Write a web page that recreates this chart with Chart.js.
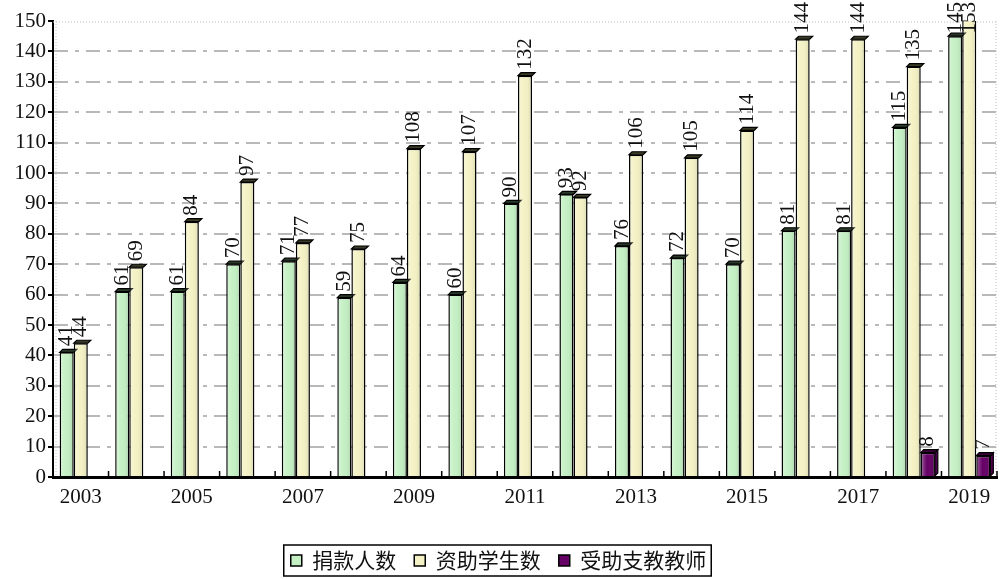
<!DOCTYPE html>
<html>
<head>
<meta charset="utf-8">
<script src="https://cdn.jsdelivr.net/npm/chart.js@4/dist/chart.umd.min.js"></script>
<style>
  html, body { margin: 0; padding: 0; background: #fff; }
  #wrap { width: 1001px; height: 579px; position: relative; }
</style>
</head>
<body>
<div id="wrap"><canvas id="chart"></canvas></div>
<script>
// Years on the category axis
const years = ['2003', '2004', '2005', '2006', '2007', '2008', '2009', '2010', '2011',
               '2012', '2013', '2014', '2015', '2016', '2017', '2018', '2019'];

// 捐款人数
const donors = [41, 61, 61, 70, 71, 59, 64, 60, 90, 93, 76, 72, 70, 81, 81, 115, 145];
// 资助学生数
const students = [44, 69, 84, 97, 77, 75, 108, 107, 132, 92, 106, 105, 114, 144, 144, 135, 153];
// 受助支教教师 (only the last two years)
const teachers = [null, null, null, null, null, null, null, null, null,
                  null, null, null, null, null, null, 8, 7];

const yTicks = [0, 10, 20, 30, 40, 50, 60, 70, 80, 90, 100, 110, 120, 130, 140, 150];

const numFont = '"Liberation Serif", "Times New Roman", serif';
const cjkFont = '"Noto Sans CJK SC", "Noto Sans", sans-serif';

// darker shade used for the 3D caps
const capColors = ['#2a3a2a', '#3a3a26', '#3a003a'];

// Draws 3D-ish tops, shading, rotated value labels and small decorations
const bar3d = {
    id: 'bar3d',
    afterDatasetsDraw(chart) {
        const ctx = chart.ctx;
        const area = chart.chartArea;
        const yMax = chart.scales.y.max;
        const d = 3;
        chart.data.datasets.forEach((ds, di) => {
            const meta = chart.getDatasetMeta(di);
            meta.data.forEach((bar, i) => {
                const v = ds.data[i];
                if (v === null || v === undefined) return;
                const x0 = bar.x - bar.width / 2;
                const x1 = bar.x + bar.width / 2;
                const top = bar.y;
                const bottom = bar.base;

                // shading over the front face
                const g = ctx.createLinearGradient(x0, 0, x1, 0);
                g.addColorStop(0, 'rgba(255,255,255,0.35)');
                g.addColorStop(0.45, 'rgba(255,255,255,0)');
                g.addColorStop(1, 'rgba(0,0,0,0.12)');
                ctx.save();
                ctx.fillStyle = g;
                ctx.fillRect(x0 + 1.5, top + 1.5, bar.width - 3, bottom - top - 1.5);

                if (v <= yMax) {
                    // right side face for the dark bars
                    if (di === 2) {
                        ctx.beginPath();
                        ctx.moveTo(x1, top);
                        ctx.lineTo(x1 + d, top - d);
                        ctx.lineTo(x1 + d, bottom - d);
                        ctx.lineTo(x1, bottom);
                        ctx.closePath();
                        ctx.fillStyle = '#4a004a';
                        ctx.fill();
                        ctx.strokeStyle = '#000';
                        ctx.lineWidth = 1.2;
                        ctx.stroke();
                    }
                    // top cap
                    ctx.beginPath();
                    ctx.moveTo(x0, top);
                    ctx.lineTo(x0 + d, top - d);
                    ctx.lineTo(x1 + d, top - d);
                    ctx.lineTo(x1, top);
                    ctx.closePath();
                    ctx.fillStyle = capColors[di];
                    ctx.fill();
                    ctx.strokeStyle = '#000';
                    ctx.lineWidth = 1.2;
                    ctx.stroke();
                }
                ctx.restore();

                // value label, rotated, reading bottom to top
                ctx.save();
                ctx.font = '21px ' + numFont;
                ctx.fillStyle = '#111';
                const txt = String(v);
                const w = ctx.measureText(txt).width;
                let start = Math.max(top, area.top) - 6;
                if (start - w < 2) start = w + 2;
                ctx.translate(bar.x, start);
                ctx.rotate(-Math.PI / 2);
                ctx.textAlign = 'left';
                ctx.textBaseline = 'middle';
                ctx.fillText(txt, 0, 0);
                ctx.restore();
            });
        });

        // inward tick marks on the category axis
        const xs = chart.scales.x;
        const step = (xs.getPixelForValue(1) - xs.getPixelForValue(0));
        ctx.save();
        ctx.strokeStyle = '#000';
        ctx.lineWidth = 1.5;
        for (let i = 0; i <= years.length; i++) {
            const px = xs.getPixelForValue(0) - step / 2 + i * step;
            ctx.beginPath();
            ctx.moveTo(px, area.bottom);
            ctx.lineTo(px, area.bottom - 6);
            ctx.stroke();
        }
        ctx.restore();
    },
    beforeDatasetsDraw(chart) {
        // faint back wall edges
        const ctx = chart.ctx;
        const a = chart.chartArea;
        ctx.save();
        ctx.strokeStyle = '#bdbdbd';
        ctx.lineWidth = 1;
        ctx.setLineDash([1, 2]);
        ctx.beginPath();
        ctx.moveTo(a.left + 3, a.top);
        ctx.lineTo(a.left + 3, a.bottom);
        ctx.moveTo(a.right - 1, a.top);
        ctx.lineTo(a.right - 1, a.bottom);
        ctx.moveTo(a.left, a.top + 1);
        ctx.lineTo(a.right, a.top + 1);
        ctx.stroke();
        ctx.restore();
    },
    afterDraw(chart) {
        // frame round the legend
        const boxes = chart.legend && chart.legend.legendHitBoxes;
        if (!boxes || !boxes.length) return;
        const left = Math.min(...boxes.map(b => b.left)) - 7;
        const right = Math.max(...boxes.map(b => b.left + b.width)) + 5;
        const top = Math.min(...boxes.map(b => b.top)) - 5;
        const bottom = Math.max(...boxes.map(b => b.top + b.height)) + 5;
        const ctx = chart.ctx;
        ctx.save();
        ctx.strokeStyle = '#000';
        ctx.lineWidth = 1.5;
        ctx.strokeRect(left, top, right - left, bottom - top);
        ctx.restore();
    }
};

new Chart(document.getElementById('chart'), {
    type: 'bar',
    data: {
        labels: years,
        datasets: [
            { label: '捐款人数', data: donors, backgroundColor: '#c4f0c4', borderColor: '#000', borderWidth: 1.5 },
            { label: '资助学生数', data: students, backgroundColor: '#f4f2c4', borderColor: '#000', borderWidth: 1.5 },
            { label: '受助支教教师', data: teachers, backgroundColor: '#660066', borderColor: '#000', borderWidth: 1.5 }
        ]
    },
    options: {
        responsive: true,
        maintainAspectRatio: false,
        animation: false,
        layout: { padding: { top: 21, right: 4, left: 0, bottom: -2 } },
        datasets: {
            bar: { categoryPercentage: 0.76, barPercentage: 1.0 }
        },
        scales: {
            x: {
                grid: { display: false },
                border: { display: true, color: '#000', width: 3 },
                ticks: {
                    autoSkip: false,
                    maxRotation: 0,
                    padding: 0,
                    color: '#111',
                    font: { family: numFont, size: 21 },
                    callback: (val, idx) => (idx % 2 === 0 ? years[idx] : '')
                },
                afterFit: (scale) => { scale.height = 55; }
            },
            y: {
                min: 0,
                max: 150,
                afterBuildTicks: (scale) => { scale.ticks = yTicks.map(v => ({ value: v })); },
                grid: {
                    color: (c) => (c.tick && (c.tick.value === 150 || c.tick.value === 0) ? 'rgba(0,0,0,0)' : '#b8b8b8'),
                    lineWidth: 2,
                    drawTicks: true,
                    tickLength: 5,
                    tickColor: '#000',
                    tickWidth: 2
                },
                border: { display: true, color: '#000', width: 2, dash: [14, 7, 4, 7] },
                ticks: {
                    padding: 2,
                    color: '#111',
                    font: { family: numFont, size: 21 }
                },
                afterFit: (scale) => { scale.width = 53; }
            }
        },
        plugins: {
            legend: {
                display: true,
                position: 'bottom',
                labels: {
                    boxWidth: 11,
                    boxHeight: 11,
                    padding: 18,
                    color: '#111',
                    font: { family: cjkFont, size: 21 }
                }
            },
            tooltip: { enabled: false }
        }
    },
    plugins: [bar3d]
});
</script>
</body>
</html>
